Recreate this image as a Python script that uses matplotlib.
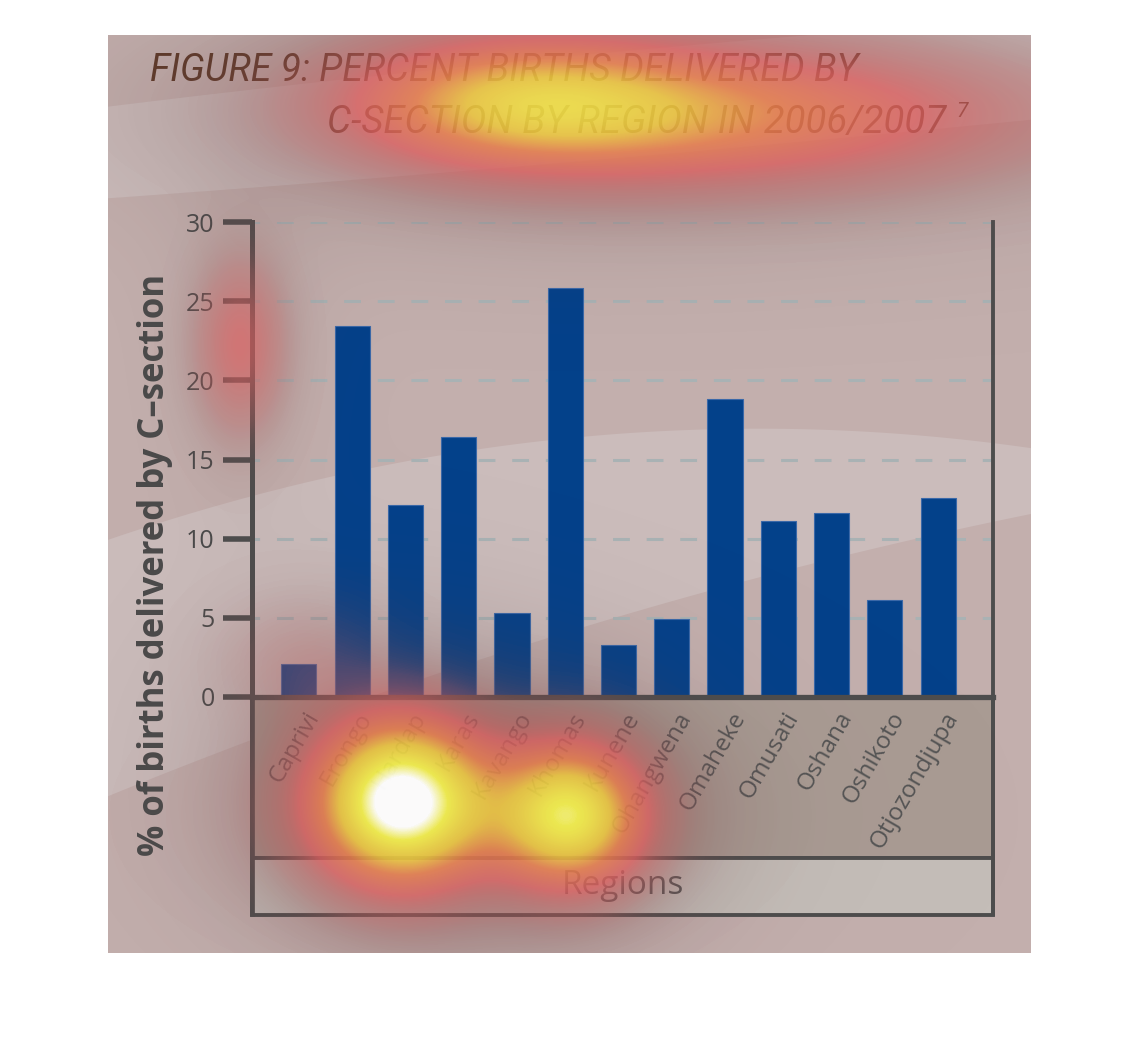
import numpy as np
import matplotlib
matplotlib.use("Agg")
import matplotlib.pyplot as plt
from matplotlib.colors import LinearSegmentedColormap
from matplotlib.patches import Rectangle, Polygon
import matplotlib.transforms as mtransforms

# ---------------- data ----------------
regions = ["Caprivi", "Erongo", "Hardap", "Karas", "Kavango", "Khomas", "Kunene",
           "Ohangwena", "Omaheke", "Omusati", "Oshana", "Oshikoto", "Otjozondjupa"]
csection_pct = [2.1, 23.4, 12.1, 16.4, 5.3, 25.8, 3.3, 4.9, 18.8, 11.1, 11.6, 6.1, 12.6]
y_ticks = [0, 5, 10, 15, 20, 25, 30]
title_line1 = "FIGURE 9: PERCENT BIRTHS DELIVERED BY"
title_line2 = "C-SECTION BY REGION IN 2006/2007"
footnote_mark = "7"
y_label = "% of births delivered by C\u2013section"
x_label = "Regions"

# ---------------- layout ----------------
W, H = 1138, 1048
fig = plt.figure(figsize=(W / 100, H / 100), dpi=100)
fig.patch.set_facecolor("white")

DARK = "#4d4d4d"
TXT = "#4a4a4a"
BAR = "#03418a"
BROWN = "#5e3a2a"

# background panel (pixel coordinates)
bg = fig.add_axes([0, 0, 1, 1], zorder=-5)
bg.set_xlim(0, W)
bg.set_ylim(H, 0)
bg.axis("off")
px0, py0, px1, py1 = 108, 35, 1031, 953
bg.add_patch(Rectangle((px0, py0), px1 - px0, py1 - py0, fc="#c3afad", ec="none"))

def curve(pts, n=80):
    pts = np.asarray(pts, float)
    xs = np.linspace(pts[0, 0], pts[-1, 0], n)
    c = np.polyfit(pts[:, 0], pts[:, 1], 2)
    return xs, np.polyval(c, xs)

band_col = "#cbbcbb"
ux, uy = curve([(px0, 105), (400, 78), (700, 40), (px1, 20)])
lx, ly = curve([(px0, 198), (400, 177), (700, 150), (px1, 120)])
uy = np.maximum(uy, py0)
poly = np.vstack([np.column_stack([ux, uy]), np.column_stack([lx, ly])[::-1]])
bg.add_patch(Polygon(poly, closed=True, fc=band_col, ec="none"))
ux, uy = curve([(px0, 540), (400, 462), (700, 430), (px1, 448)])
lx, ly = curve([(px0, 795), (400, 690), (700, 590), (px1, 515)])
poly = np.vstack([np.column_stack([ux, uy]), np.column_stack([lx, ly])[::-1]])
bg.add_patch(Polygon(poly, closed=True, fc=band_col, ec="none"))

# boxes below the chart
ax_l, ax_r, ax_t, ax_b = 252, 993, 222, 697
bg.add_patch(Rectangle((ax_l, ax_b), ax_r - ax_l, 161, fc="#a99b93", ec=DARK, lw=2.8))
bg.add_patch(Rectangle((ax_l, 858), ax_r - ax_l, 57, fc="#c4bdb8", ec=DARK, lw=2.8))
bg.plot([ax_l, ax_l], [ax_b, 916], color=DARK, lw=3.4, solid_capstyle="butt")
bg.plot([ax_r, ax_r], [ax_b, 916], color=DARK, lw=2.8, solid_capstyle="butt")
bg.text((ax_l + ax_r) / 2, 886, x_label, ha="center", va="center",
        fontsize=24, color="#555555", family="Open Sans")

# ---------------- chart ----------------
ax = fig.add_axes([ax_l / W, 1 - ax_b / H, (ax_r - ax_l) / W, (ax_b - ax_t) / H])
ax.set_facecolor("none")
x = np.arange(len(regions))
ax.bar(x, csection_pct, width=0.66, color=BAR, edgecolor="#3a68a8", linewidth=0.8, zorder=3)
ax.set_xlim(-0.88, 13.03)
ax.set_ylim(0, 30)
ax.set_yticks(y_ticks)
ax.set_yticklabels([str(v) for v in y_ticks], family="Open Sans")
ax.tick_params(axis="y", length=21, width=4, color=DARK, pad=6, labelsize=18, labelcolor=TXT)
ax.set_xticks(x)
ax.set_xticklabels(regions, rotation=60, ha="right", va="center", rotation_mode="anchor",
                   family="Open Sans", fontsize=17.5, color="#555555")
ax.tick_params(axis="x", length=0, pad=12)
for lbl in ax.get_xticklabels():
    lbl.set_transform(lbl.get_transform() + mtransforms.ScaledTranslation(15 / 100, 0, fig.dpi_scale_trans))
ax.grid(axis="y", color="#a9b2b4", lw=2.2, linestyle=(3, (5.5, 5.5)), zorder=1)
ax.spines["top"].set_visible(False)
ax.spines["left"].set_color(DARK)
ax.spines["left"].set_linewidth(3.6)
ax.spines["bottom"].set_color(DARK)
ax.spines["bottom"].set_linewidth(3.8)
ax.spines["bottom"].set_zorder(4)
ax.spines["right"].set_color(DARK)
ax.spines["right"].set_linewidth(2.8)
ax.set_ylabel(y_label, family="Open Sans", fontweight="bold", fontsize=25, color=TXT)
ax.yaxis.set_label_coords((155 - ax_l) / (ax_r - ax_l), (ax_b - 565) / (ax_b - ax_t))
ax.yaxis.label.set_va("center")

# ---------------- title ----------------
tfam = ["Roboto", "DejaVu Sans"]
fig.text(150 / W, 1 - 81 / H, title_line1, fontsize=27, style="italic",
         family=tfam, color=BROWN, va="baseline", ha="left")
fig.text(327 / W, 1 - 133 / H, title_line2, fontsize=27.5, style="italic",
         family=tfam, color=BROWN, va="baseline", ha="left")
fig.text(956 / W, 1 - 117 / H, footnote_mark, fontsize=15, style="italic",
         family=tfam, color=BROWN, va="baseline", ha="left")

# ---------------- attention heat overlay ----------------
ov = fig.add_axes([0, 0, 1, 1], zorder=10)
ov.axis("off")
yy, xx = np.mgrid[py0:py1, px0:px1]
blobs = [
    (520, 100, 120, 45, 0.50),
    (720, 115, 200, 48, 0.45),
    (240, 345, 30, 58, 0.25),
    (400, 800, 58, 55, 0.97),
    (570, 815, 50, 48, 0.78),
    (460, 815, 130, 65, 0.15),
    (300, 660, 60, 45, 0.08),
]
heat = np.zeros(xx.shape)
shade = np.zeros(xx.shape)
for cx, cy, sx, sy, a in blobs:
    heat += a * np.exp(-0.5 * (((xx - cx) / sx) ** 2 + ((yy - cy) / sy) ** 2))
    shade += a * np.exp(-0.5 * (((xx - cx) / (1.9 * sx)) ** 2 + ((yy - cy) / (1.9 * sy)) ** 2))
heat = np.clip(heat, 0, 1)
shade = np.clip(shade, 0, 1)
shade_cmap = LinearSegmentedColormap.from_list("shade", [
    (0.0, (0.35, 0.25, 0.25, 0.0)),
    (1.0, (0.35, 0.25, 0.25, 0.35)),
])
cmap = LinearSegmentedColormap.from_list("heat", [
    (0.00, (0.55, 0.32, 0.32, 0.00)),
    (0.10, (0.75, 0.36, 0.36, 0.35)),
    (0.28, (0.89, 0.38, 0.38, 0.75)),
    (0.48, (0.93, 0.50, 0.30, 0.82)),
    (0.65, (0.95, 0.80, 0.25, 0.85)),
    (0.88, (0.97, 0.96, 0.30, 0.90)),
    (1.00, (1.00, 1.00, 1.00, 0.97)),
])
ov.imshow(shade, cmap=shade_cmap, vmin=0, vmax=1, extent=(px0, px1, py1, py0), interpolation="bilinear")
ov.imshow(heat, cmap=cmap, vmin=0, vmax=1, extent=(px0, px1, py1, py0), interpolation="bilinear")
ov.set_xlim(0, W)
ov.set_ylim(H, 0)

fig.savefig("out.png", dpi=100, facecolor="white")
